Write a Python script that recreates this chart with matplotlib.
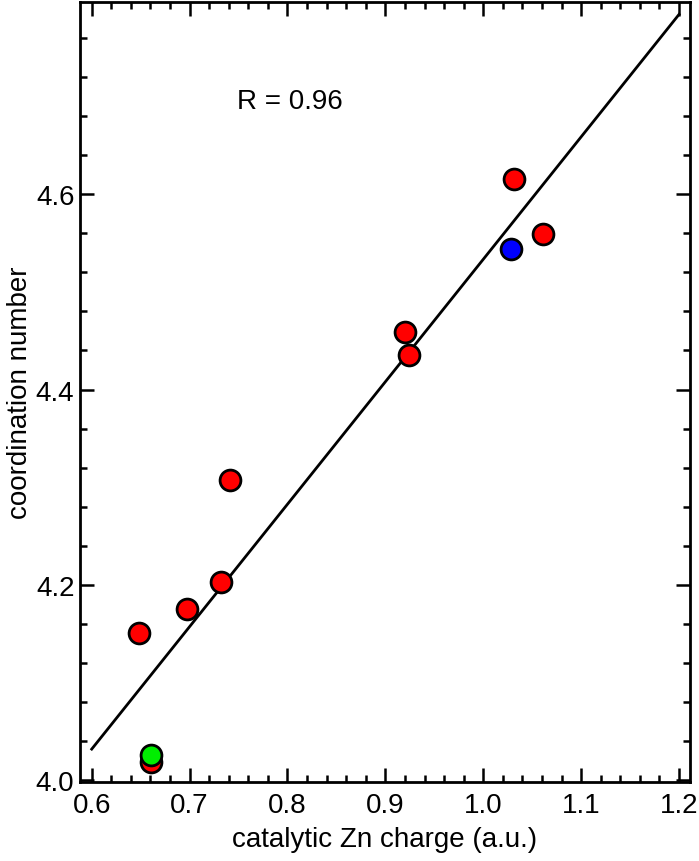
import matplotlib
matplotlib.use("Agg")
import matplotlib.pyplot as plt
from matplotlib.ticker import MultipleLocator, FormatStrFormatter
import numpy as np

plt.rcParams['font.family'] = ['Liberation Sans', 'DejaVu Sans']

red_x = [0.648, 0.6975, 0.732, 0.741, 0.6606, 0.920, 0.924, 1.031, 1.0613]
red_y = [4.151, 4.1755, 4.203, 4.307, 4.0186, 4.4586, 4.435, 4.616, 4.559]
green_x = [0.6606]
green_y = [4.026]
blue_x = [1.028]
blue_y = [4.5437]
fit_slope = 1.2533
fit_intercept = 3.2800
fit_range = [0.6, 1.2]
r_text = "R = 0.96"

fig = plt.figure(figsize=(6.99, 8.62), dpi=100)
ax = fig.add_axes([0.1144, 0.0913, 0.8727, 0.9056])

fx = np.array(fit_range)
ax.plot(fx, fit_intercept + fit_slope * fx, color='black', lw=2.0, zorder=2)

mk = dict(marker='o', ms=15, mec='black', mew=2.0, ls='none', zorder=3)
ax.plot(red_x, red_y, mfc='#ff0000', **mk)
ax.plot(green_x, green_y, mfc='#00ee00', **mk)
ax.plot(blue_x, blue_y, mfc='#0000ff', **mk)

ax.text(0.802, 4.695, r_text, fontsize=20, ha='center', va='center')

ax.set_xlim(0.588, 1.2112)
ax.set_ylim(3.998, 4.797)
ax.xaxis.set_major_locator(MultipleLocator(0.1))
ax.xaxis.set_minor_locator(MultipleLocator(0.02))
ax.yaxis.set_major_locator(MultipleLocator(0.2))
ax.yaxis.set_minor_locator(MultipleLocator(0.04))
ax.xaxis.set_major_formatter(FormatStrFormatter('%.1f'))
ax.yaxis.set_major_formatter(FormatStrFormatter('%.1f'))

ax.tick_params(which='both', direction='in', top=True, right=True, width=1.8, labelsize=20)
ax.tick_params(which='major', length=10, pad=4)
ax.tick_params(axis='x', which='major', pad=7)
ax.tick_params(which='minor', length=5)
for s in ax.spines.values():
    s.set_linewidth(2.0)

ax.set_xlabel('catalytic Zn charge (a.u.)', fontsize=20, labelpad=6)
ax.set_ylabel('coordination number', fontsize=20, labelpad=2)

fig.savefig('out.png', dpi=100)
